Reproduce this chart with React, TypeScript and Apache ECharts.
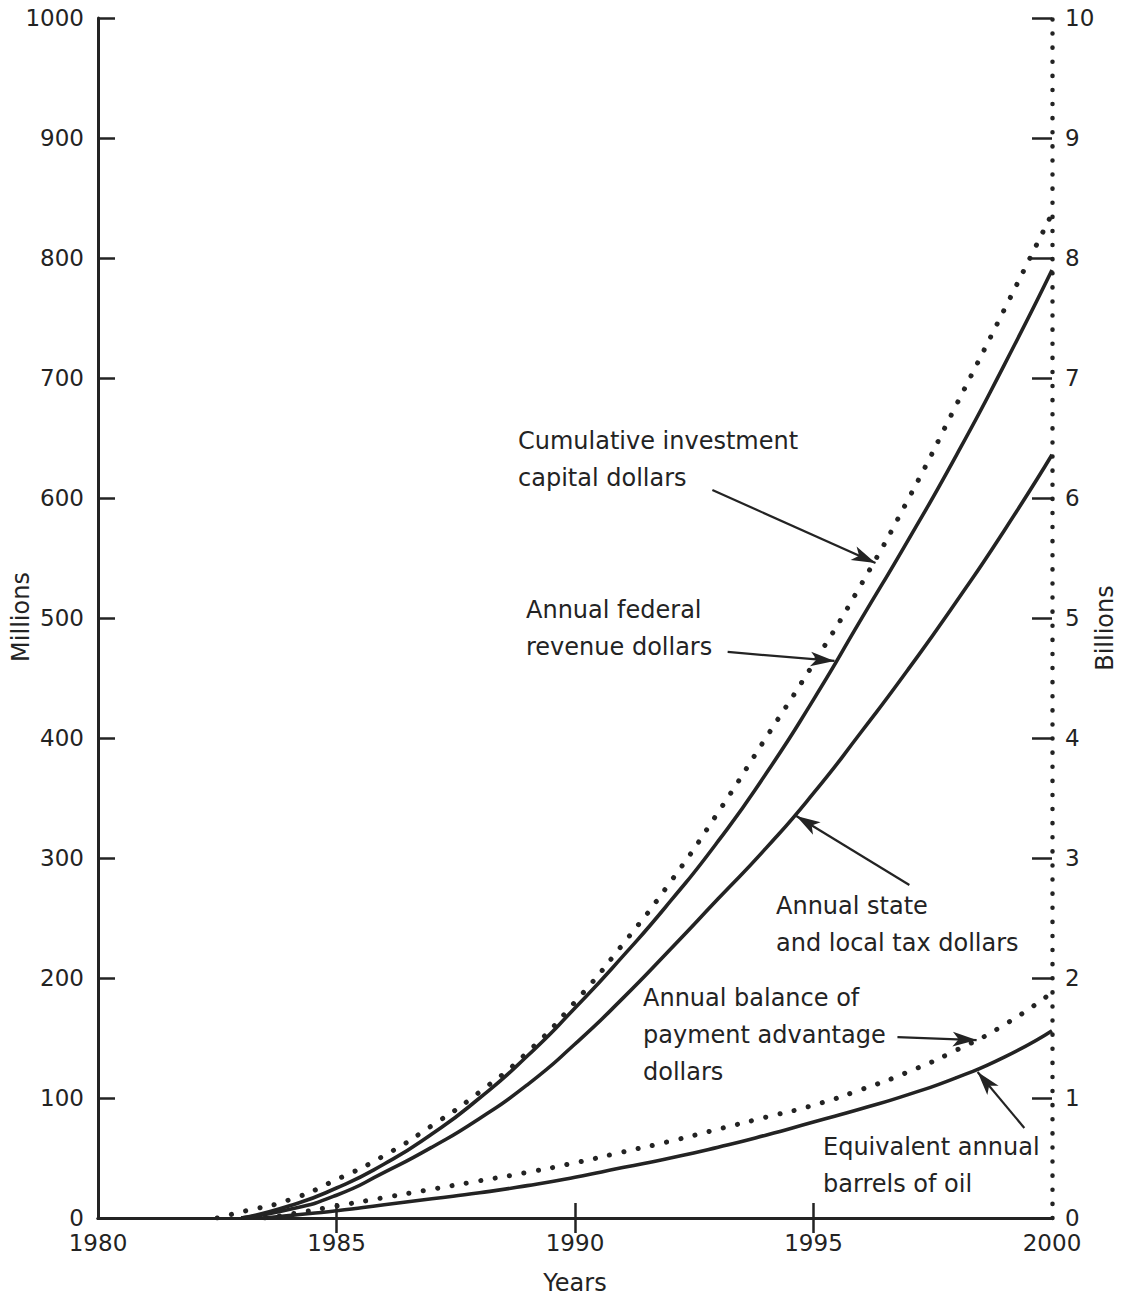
import React, { useEffect, useRef } from "react";
import * as echarts from "echarts";

// ---- data ----
const xTickYears = [1985, 1990, 1995];
const fedYears = [1983, 1984, 1985, 1986, 1987, 1988, 1989, 1990, 1991, 1992, 1993, 1994, 1995, 1996, 1997, 1998, 1999, 2000];
const federalRevenue = [0, 10, 25, 45, 70, 100, 135, 175, 218, 264, 314, 370, 432, 499, 566, 636, 711, 790];
const stateYears = [1983, 1984, 1985, 1986, 1987, 1988, 1989, 1990, 1991, 1992, 1993, 1994, 1995, 1996, 1997, 1998, 1999, 2000];
const stateLocalTax = [0, 7, 19, 38, 59, 83, 111, 145, 183, 224, 266, 308, 354, 405, 458, 514, 573, 636];
const cumYears = [1982.5, 1983, 1984, 1985, 1986, 1987, 1988, 1989, 1990, 1991, 1992, 1993, 1994, 1995, 1996, 1997, 1998, 1999, 2000];
const cumulativeInvestment = [0, 0.05, 0.15, 0.32, 0.52, 0.77, 1.05, 1.38, 1.8, 2.28, 2.8, 3.38, 4.0, 4.62, 5.28, 6.0, 6.78, 7.57, 8.37];
const balYears = [1983.5, 1984, 1985, 1986, 1987, 1988, 1989, 1990, 1991, 1992, 1993, 1994, 1995, 1996, 1997, 1998, 1999, 2000];
const balanceOfPayment = [0, 0.03, 0.1, 0.17, 0.24, 0.31, 0.38, 0.46, 0.55, 0.64, 0.74, 0.84, 0.94, 1.07, 1.22, 1.4, 1.61, 1.88];
const oilYears = [1983.5, 1984, 1985, 1986, 1987, 1988, 1989, 1990, 1991, 1992, 1993, 1994, 1995, 1996, 1997, 1998, 1999, 2000];
const barrelsOfOil = [0, 2, 6, 11, 16, 21, 27, 34, 42, 50, 59, 69, 80, 91, 103, 117, 134, 156];

// annotation arrows: [fromYear, fromMillions, toYear, toMillions]
const arrows = [
  [1992.88, 606.7, 1996.3, 545.8],
  [1993.2, 471.7, 1995.44, 464.2],
  [1997.01, 277.5, 1994.64, 335],
  [1996.76, 150.8, 1998.42, 148.3],
  [1999.42, 75, 1998.44, 121.7],
];

const notes = [
  { text: "Cumulative investment\ncapital dollars", x: 518, y: 422 },
  { text: "Annual federal\nrevenue dollars", x: 526, y: 591 },
  { text: "Annual state\nand local tax dollars", x: 776, y: 887 },
  { text: "Annual balance of\npayment advantage\ndollars", x: 643, y: 979 },
  { text: "Equivalent annual\nbarrels of oil", x: 823, y: 1128 },
];

const zip = (xs: number[], ys: number[]) => xs.map((x, i) => [x, ys[i]]);

const INK = "#232323";
const FONT = "DejaVu Sans";

export default function App() {
  const ref = useRef<HTMLDivElement>(null);
  useEffect(() => {
    if (!ref.current) return;
    const chart = echarts.init(ref.current, undefined, { renderer: "svg" });
    const plain = (v: number) => String(v);
    const solid = (data: number[][], yAxisIndex: number, extra: any = {}) => ({
      type: "line",
      data,
      yAxisIndex,
      smooth: 0.6,
      showSymbol: false,
      symbol: "none",
      silent: true,
      lineStyle: { color: INK, width: 3.6 },
      ...extra,
    });
    const dotted = (data: number[][], yAxisIndex: number) => ({
      type: "line",
      data,
      yAxisIndex,
      smooth: 0.6,
      showSymbol: false,
      symbol: "none",
      silent: true,
      lineStyle: { color: INK, width: 5, type: [0.1, 14.5], cap: "round" },
    });
    const option: any = {
      animation: false,
      backgroundColor: "#ffffff",
      grid: { left: 98, right: 69, top: 18, bottom: 83, containLabel: false, outerBoundsMode: "none" },
      xAxis: [
        {
          type: "value",
          min: 1980,
          max: 2000,
          interval: 5,
          position: "bottom",
          name: "Years",
          nameLocation: "middle",
          nameGap: 53,
          nameTextStyle: { fontFamily: FONT, fontSize: 24, color: INK },
          axisLine: { lineStyle: { color: INK, width: 3 } },
          axisTick: { inside: true, length: 15, customValues: xTickYears, lineStyle: { color: INK, width: 2.5 } },
          axisLabel: { fontFamily: FONT, fontSize: 23, color: INK, margin: 13, formatter: plain },
          splitLine: { show: false },
        },
        {
          type: "value",
          min: 1980,
          max: 2000,
          interval: 5,
          position: "top",
          axisLine: { lineStyle: { color: INK, width: 3 } },
          axisTick: { inside: true, length: 15, customValues: xTickYears, lineStyle: { color: INK, width: 2.5 } },
          axisLabel: { show: false },
          splitLine: { show: false },
        },
      ],
      yAxis: [
        {
          type: "value",
          min: 0,
          max: 1000,
          interval: 100,
          position: "left",
          axisLine: { show: true, lineStyle: { color: INK, width: 3 } },
          axisTick: { show: true, inside: true, length: 17, lineStyle: { color: INK, width: 2.5 } },
          axisLabel: { fontFamily: FONT, fontSize: 23, color: INK, margin: 14, formatter: plain },
          splitLine: { show: false },
        },
        {
          type: "value",
          min: 0,
          max: 10,
          interval: 1,
          position: "right",
          axisLine: { show: true, lineStyle: { color: INK, width: 4.5, type: [0.1, 14], cap: "round" } },
          axisTick: { show: true, inside: true, length: 20, lineStyle: { color: INK, width: 2.5 } },
          axisLabel: { fontFamily: FONT, fontSize: 23, color: INK, margin: 13, formatter: plain },
          splitLine: { show: false },
        },
      ],
      series: [
        solid(zip(fedYears, federalRevenue), 0, {
          markLine: {
            silent: true,
            symbol: ["none", "arrow"],
            symbolSize: [11, 24],
            label: { show: false },
            emphasis: { disabled: true },
            lineStyle: { color: INK, width: 2.2, type: "solid" },
            data: arrows.map((a) => [{ coord: [a[0], a[1]] }, { coord: [a[2], a[3]] }]),
          },
        }),
        solid(zip(stateYears, stateLocalTax), 0),
        solid(zip(oilYears, barrelsOfOil), 0),
        dotted(zip(cumYears, cumulativeInvestment), 1),
        dotted(zip(balYears, balanceOfPayment), 1),
      ],
      graphic: [
        ...notes.map((n) => ({
          type: "text",
          x: n.x,
          y: n.y,
          silent: true,
          style: {
            text: n.text,
            font: `24px "${FONT}"`,
            fill: INK,
            lineHeight: 37,
            textAlign: "left",
            textVerticalAlign: "top",
          },
        })),
        {
          type: "text",
          x: 21,
          y: 617,
          rotation: Math.PI / 2,
          silent: true,
          style: { text: "Millions", font: `24px "${FONT}"`, fill: INK, textAlign: "center", textVerticalAlign: "middle" },
        },
        {
          type: "text",
          x: 1105,
          y: 628,
          rotation: Math.PI / 2,
          silent: true,
          style: { text: "Billions", font: `24px "${FONT}"`, fill: INK, textAlign: "center", textVerticalAlign: "middle" },
        },
      ],
    };
    chart.setOption(option);
    return () => chart.dispose();
  }, []);
  return (
    <div
      ref={ref}
      style={{ position: "absolute", left: 0, top: 0, width: 1121, height: 1301 }}
    />
  );
}
